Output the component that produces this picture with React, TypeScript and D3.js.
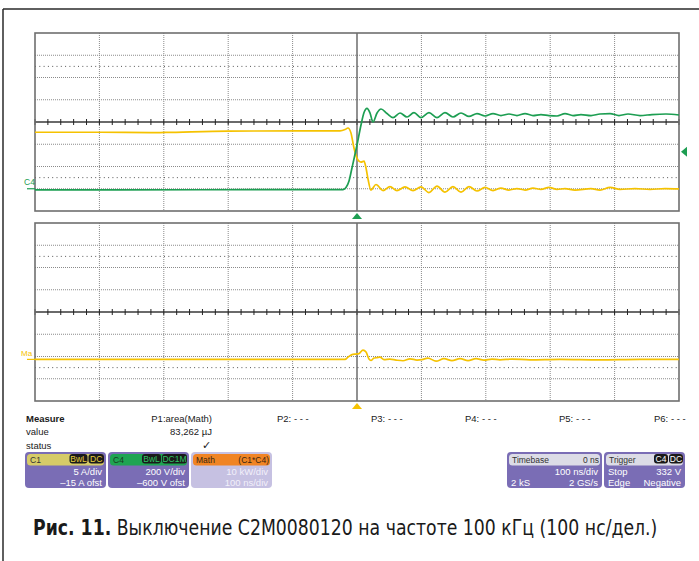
import React from "react";
import * as d3 from "d3";

// ---- DATA (time in ns, C4 in V, C1 in A, Math in kW) ----
const c4Time = [-500, -244, -21.7, -17.1, -12.4, -7.8, 0, 6.2, 10.9, 15.5, 20.2, 24.8, 31.1, 37.3, 46.6, 55.9, 66.8, 77.6, 88.5, 99.4, 111.8, 124.2, 136.6, 149, 161.5, 173.9, 186.3, 198.8, 211.2, 223.6, 236, 248.4, 260.9, 273.3, 285.7, 298.1, 310.6, 323, 335.4, 347.8, 363.4, 377.3, 392.9, 406.8, 420.8, 439.4, 458, 479.8, 500];
const c4Volts = [-11, -9, -7, 11, 70, 187, 393, 573, 685, 723, 681, 600, 681, 717, 676, 640, 681, 645, 685, 640, 685, 640, 685, 645, 681, 650, 676, 654, 676, 658, 672, 658, 676, 658, 667, 658, 654, 676, 658, 667, 658, 672, 676, 658, 672, 658, 667, 672, 663];

const c1Time = [-500, -399, -321, -298, -200, -88.5, -26.4, -18.6, -14, -9.3, -4.7, 0, 3.1, 6.2, 10.9, 14, 17.1, 21.7, 29.5, 40.4, 51.2, 62.1, 74.5, 87, 99.4, 111.8, 124.2, 136.6, 149, 161.5, 173.9, 186.3, 198.8, 211.2, 223.6, 236, 248.4, 260.9, 273.3, 285.7, 298.1, 310.6, 323, 338.5, 363.4, 377.3, 392.9, 408.4, 431.7, 455, 478.3, 500];
const c1Amps = [12.7, 12.7, 12.6, 12.65, 12.95, 13.0, 13.0, 13.3, 13.65, 12.5, 9.15, 6.9, 6.2, 6.0, 6.2, 4.65, 2.2, -0.3, 0.95, -0.4, 0.5, -0.4, 0.4, -0.4, 0.4, -0.85, 0.6, -0.75, 0.5, -0.75, 0.5, -0.5, 0.3, -0.4, 0.15, -0.3, 0.05, -0.3, 0.15, -0.15, 0.3, -0.15, 0.05, -0.3, 0.05, -0.3, 0.3, -0.15, 0.05, -0.15, 0.05, -0.05];

const mathTime = [-500, -18.6, -14, -7.8, -1.6, 3.1, 9.3, 14, 18.6, 21.7, 26.4, 31.1, 35.7, 41.9, 51.2, 60.6, 71.4, 82.3, 93.2, 101, 110.2, 122.7, 135, 147.5, 160, 172.4, 184.8, 197.2, 209.6, 222, 240.7, 268.6, 315, 377, 439, 500];
const mathKW = [0, 0, 1.0, 2.15, 2.4, 2.6, 4.2, 3.3, 0.13, -0.5, 0.6, 0.8, 1.0, -0.1, 0.1, -0.3, -0.6, 0.27, -0.3, -0.1, 0.6, -0.8, 0.35, -0.55, 0.35, -0.55, 0.35, -0.3, 0.15, -0.2, 0.15, -0.2, 0, -0.2, 0.05, 0];

const measureHeaders = ["P2: - - -", "P3: - - -", "P4: - - -", "P5: - - -", "P6: - - -"];
const captionBold = "Рис. 11.";
const captionText = " Выключение C2M0080120 на частоте 100 кГц (100 нс/дел.)";

// ---- LAYOUT ----
const W = 699, H = 561;
const PL = 35, PR = 679;
const TOP1 = 33, BOT1 = 211;
const TOP2 = 223, BOT2 = 401;
const YEL = "#f5c200";
const GRN = "#1d9e52";
const PURPLE = "#7a6db5";
const FONT = "'Liberation Sans', Arial, sans-serif";

const x = d3.scaleLinear().domain([-500, 500]).range([PL, PR]);
const yV = d3.scaleLinear().domain([-200, 1400]).range([BOT1, TOP1]);
const yA = d3.scaleLinear().domain([-5, 35]).range([BOT1, TOP1]);
const yM = d3.scaleLinear().domain([-18.7, 61.3]).range([BOT2, TOP2]);

const majorT = d3.range(-500, 501, 100);
const minorT = d3.range(-500, 501, 20);

function Grid({ top, bot }: { top: number; bot: number }) {
  const dy = (bot - top) / 8;
  const cy = (top + bot) / 2;
  const cx = x(0);
  return (
    <g>
      {majorT.filter((t) => t !== 0 && t !== -500 && t !== 500).map((t) => (
        <line key={"v" + t} x1={x(t)} x2={x(t)} y1={top} y2={bot} stroke="#8a8a8a" strokeWidth={1} strokeDasharray="1 1" />
      ))}
      {[1, 2, 3, 5, 6, 7].map((k) => (
        <line key={"h" + k} x1={PL} x2={PR} y1={top + k * dy} y2={top + k * dy} stroke="#8a8a8a" strokeWidth={1} strokeDasharray="1 1" />
      ))}
      {[1.5, 6.5].map((k) => (
        <line key={"s" + k} x1={PL} x2={PR} y1={top + k * dy} y2={top + k * dy} stroke="#555" strokeWidth={1} strokeDasharray="1 3.3" />
      ))}
      <line x1={PL} x2={PR} y1={cy} y2={cy} stroke="#6a6a6a" strokeWidth={2} />
      {minorT.map((t) => (
        <line key={"t" + t} x1={x(t)} x2={x(t)} y1={cy - 3} y2={cy + 3} stroke="#222" strokeWidth={1} />
      ))}
      <line x1={cx} x2={cx} y1={top} y2={bot} stroke="#555" strokeWidth={1.3} />
      <rect x={PL} y={top} width={PR - PL} height={bot - top} fill="none" stroke="#6f6f6f" strokeWidth={1.6} />
    </g>
  );
}

function Pill({ x0, y0, w, text, color }: { x0: number; y0: number; w: number; text: string; color: string }) {
  return (
    <g>
      <rect x={x0} y={y0} width={w} height={9.5} rx={3} fill="#1a1a1a" />
      <text x={x0 + w / 2} y={y0 + 7.8} textAnchor="middle" fontSize={8.5} fill={color} fontFamily={FONT}>{text}</text>
    </g>
  );
}

function Box(props: {
  x0: number; w: number; bg: string; hdr: string; hdrText: string; hdrTextColor: string;
  right?: React.ReactNode; rows: [string, string][]; rowColor: string;
}) {
  const { x0, w, bg, hdr, hdrText, hdrTextColor, right, rows, rowColor } = props;
  const y0 = 452;
  return (
    <g fontFamily={FONT}>
      <rect x={x0} y={y0} width={w} height={36} rx={4} fill={bg} />
      <rect x={x0 + 2} y={y0 + 2} width={w - 4} height={11.5} rx={3.5} fill={hdr} />
      <text x={x0 + 5} y={y0 + 11} fontSize={8.5} fill={hdrTextColor}>{hdrText}</text>
      {right}
      {rows.map((r, i) => (
        <g key={i}>
          <text x={x0 + 4} y={y0 + 23 + i * 10.5} fontSize={9.5} fill={rowColor}>{r[0]}</text>
          <text x={x0 + w - 4} y={y0 + 23 + i * 10.5} fontSize={9.5} fill={rowColor} textAnchor="end">{r[1]}</text>
        </g>
      ))}
    </g>
  );
}

export default function App() {
  const line = (ys: (v: number) => number) =>
    d3.line<[number, number]>().x((d) => x(d[0])).y((d) => ys(d[1])).curve(d3.curveMonotoneX);
  const c4Pts = c4Time.map((t, i) => [t, c4Volts[i]] as [number, number]);
  const c1Pts = c1Time.map((t, i) => [t, c1Amps[i]] as [number, number]);
  const mPts = mathTime.map((t, i) => [t, mathKW[i]] as [number, number]);
  const cx = x(0);
  const trigY = yV(332);

  return (
    <svg width={W} height={H} style={{ position: "absolute", left: 0, top: 0, background: "#fff" }} fontFamily={FONT}>
      <rect x={0} y={0} width={W} height={H} fill="#fff" />
      {/* outer frame */}
      <line x1={3} x2={W} y1={9} y2={9} stroke="#2a2a2a" strokeWidth={1.5} />
      <line x1={3} x2={3} y1={9} y2={H} stroke="#2a2a2a" strokeWidth={1.5} />

      <Grid top={TOP1} bot={BOT1} />
      <Grid top={TOP2} bot={BOT2} />

      {/* traces */}
      <path d={line(yA)(c1Pts) || ""} fill="none" stroke={YEL} strokeWidth={1.7} />
      <path d={line(yV)(c4Pts) || ""} fill="none" stroke={GRN} strokeWidth={1.7} />
      <path d={line(yM)(mPts) || ""} fill="none" stroke={YEL} strokeWidth={1.7} />

      {/* channel markers */}
      <text x={24} y={185} fontSize={8.5} fill={GRN} fontFamily={FONT}>C4</text>
      <line x1={27} x2={PL} y1={yV(0)} y2={yV(0)} stroke={GRN} strokeWidth={1.2} />
      <text x={21} y={355.5} fontSize={8} fill={YEL} fontFamily={FONT}>Ma</text>
      <line x1={27} x2={PL} y1={yM(0)} y2={yM(0)} stroke={YEL} strokeWidth={1.2} />

      {/* trigger markers */}
      <path d={`M${cx - 5},${219} L${cx + 5},${219} L${cx},${213} Z`} fill={GRN} />
      <path d={`M${cx - 5},${409} L${cx + 5},${409} L${cx},${403} Z`} fill={YEL} />
      <path d={`M${681},${trigY} L${687},${trigY - 5} L${687},${trigY + 5} Z`} fill={GRN} />

      {/* measure panel */}
      <g fontSize={9.5} fill="#1a1a1a">
        <text x={26} y={422} fontWeight="bold">Measure</text>
        <text x={26} y={435}>value</text>
        <text x={26} y={449}>status</text>
        <text x={212} y={422} textAnchor="end">P1:area(Math)</text>
        <text x={212} y={435} textAnchor="end">83,262 µJ</text>
        <text x={211} y={449} textAnchor="end" fontSize={11}>✓</text>
        {measureHeaders.map((m, i) => (
          <text key={m + i} x={[277, 371, 465, 559, 654][i]} y={422}>{m}</text>
        ))}
      </g>

      <Box x0={25} w={81} bg={PURPLE} hdr="#d6cb68" hdrText="C1" hdrTextColor="#333"
        right={<g><Pill x0={69.5} y0={454} w={18} text="BwL" color="#e8cf3c" /><Pill x0={88.5} y0={454} w={15.5} text="DC" color="#e8cf3c" /></g>}
        rows={[["", "5 A/div"], ["", "–15 A ofst"]]} rowColor="#fff" />
      <Box x0={108} w={81} bg={PURPLE} hdr="#1fa452" hdrText="C4" hdrTextColor="#1a3a22"
        right={<g><Pill x0={142} y0={454} w={19} text="BwL" color="#2fc466" /><Pill x0={162} y0={454} w={25} text="DC1M" color="#2fc466" /></g>}
        rows={[["", "200 V/div"], ["", "–600 V ofst"]]} rowColor="#fff" />
      <Box x0={191} w={81} bg="#c6c1e2" hdr="#f08424" hdrText="Math" hdrTextColor="#3a2410"
        right={<text x={269} y={463} fontSize={8.5} textAnchor="end" fill="#3a2410">(C1*C4)</text>}
        rows={[["", "10 kW/div"], ["", "100 ns/div"]]} rowColor="#f2f0fa" />
      <Box x0={507} w={95} bg={PURPLE} hdr="#dcdce6" hdrText="Timebase" hdrTextColor="#333"
        right={<text x={599} y={463} fontSize={8.5} textAnchor="end" fill="#333">0 ns</text>}
        rows={[["", "100 ns/div"], ["2 kS", "2 GS/s"]]} rowColor="#fff" />
      <Box x0={604} w={81} bg={PURPLE} hdr="#dcdce6" hdrText="Trigger" hdrTextColor="#333"
        right={<g><Pill x0={654} y0={454} w={14} text="C4" color="#fff" /><Pill x0={669} y0={454} w={14} text="DC" color="#fff" /></g>}
        rows={[["Stop", "332 V"], ["Edge", "Negative"]]} rowColor="#fff" />

      {/* caption */}
      <g transform="translate(33,535) scale(0.86,1)">
        <text x={0} y={0} fontSize={21} fill="#1a1a1a" fontFamily="'DejaVu Sans Condensed', 'Roboto', sans-serif" textLength={726} lengthAdjust="spacingAndGlyphs">
          <tspan fontWeight="bold">{captionBold}</tspan>
          <tspan>{captionText}</tspan>
        </text>
      </g>
    </svg>
  );
}
